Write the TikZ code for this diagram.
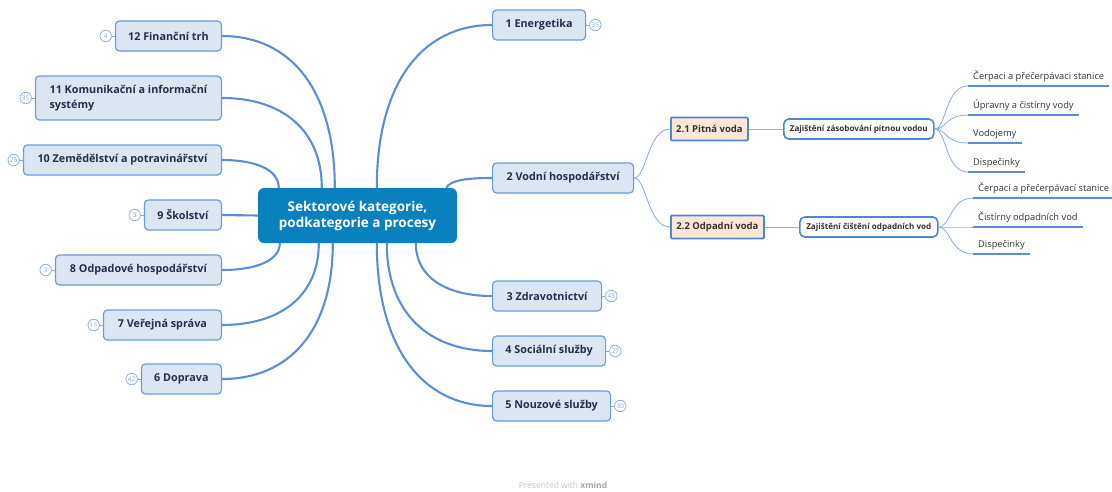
\documentclass[tikz,border=0pt]{standalone}
\usepackage{fontspec}
\setmainfont{Open Sans}
\definecolor{rootfill}{HTML}{0A81BF}
\definecolor{edgeblue}{HTML}{5A8ED8}
\definecolor{thinblue}{HTML}{8DB3E8}
\definecolor{topicfill}{HTML}{DCE6F2}
\definecolor{topicline}{HTML}{6C9BD9}
\definecolor{topictext}{HTML}{22304D}
\definecolor{subfill}{HTML}{FCE6D6}
\definecolor{subline}{HTML}{4C87D5}
\definecolor{darktext}{HTML}{333333}
\definecolor{badgeblue}{HTML}{86ABE0}
\definecolor{footgray}{HTML}{C4C4C4}
\begin{document}
\begin{tikzpicture}[x=1pt,y=-1pt,
  root/.style={fill=rootfill, rounded corners=6pt, text=white, align=center,
    font=\bfseries\fontsize{13.5}{16}\selectfont, minimum width=199pt, minimum height=55pt, inner sep=0pt},
  topic/.style={draw=topicline, fill=topicfill, rounded corners=4pt, line width=1.2pt,
    text=topictext, font=\bfseries\fontsize{10.8}{14}\selectfont, minimum height=30pt, inner sep=0pt},
  subtopic/.style={draw=subline, fill=subfill, line width=1.8pt, rounded corners=1pt,
    text=darktext, font=\bfseries\fontsize{9.5}{11}\selectfont, minimum height=23pt, inner sep=0pt},
  process/.style={draw=subline, fill=white, line width=1.6pt, rounded corners=5pt,
    text=darktext, font=\bfseries\fontsize{8.1}{9}\selectfont, minimum height=20pt, inner sep=0pt},
  leaf/.style={anchor=south west, text=darktext, font=\fontsize{9.3}{11}\selectfont,
    inner xsep=5pt, inner ysep=4pt, text height=7pt, text depth=2pt},
  badge/.style={circle, draw=badgeblue, line width=0.7pt, minimum size=11.5pt, inner sep=0pt,
    text=badgeblue, font=\fontsize{6.5}{7}\selectfont},
  mainedge/.style={draw=edgeblue, line width=2.1pt},
  thinedge/.style={draw=thinblue, line width=0.9pt},
  badgelink/.style={draw=badgeblue, line width=0.7pt},
  leafline/.style={draw=edgeblue, line width=1.6pt}]
\useasboundingbox (0,0) rectangle (1112,491);

% central topic
\node[root] (c) at (357.5,215.5) {Sektorové kategorie,\\podkategorie a procesy};

% left-hand sectors
\node[topic, anchor=east, minimum width=106pt] (n12) at (222,36) {12 Finanční trh};
\node[topic, anchor=east, minimum width=186pt, minimum height=44pt, align=left,
  font=\bfseries\fontsize{10.8}{15}\selectfont] (n11) at (222,98) {11 Komunikační a informační\\systémy};
\node[topic, anchor=east, minimum width=198pt] (n10) at (222,160) {10 Zemědělství a potravinářství};
\node[topic, anchor=east, minimum width=77pt] (n9) at (222,215) {9 Školství};
\node[topic, anchor=east, minimum width=166pt] (n8) at (222,270) {8 Odpadové hospodářství};
\node[topic, anchor=east, minimum width=118pt] (n7) at (222,325) {7 Veřejná správa};
\node[topic, anchor=east, minimum width=80pt] (n6) at (222,379) {6 Doprava};

% right-hand sectors
\node[topic, anchor=west, minimum width=93pt] (n1) at (492,25) {1 Energetika};
\node[topic, anchor=west, minimum width=141pt] (n2) at (492,178) {2 Vodní hospodářství};
\node[topic, anchor=west, minimum width=109pt] (n3) at (492,296) {3 Zdravotnictví};
\node[topic, anchor=west, minimum width=113pt] (n4) at (492,351) {4 Sociální služby};
\node[topic, anchor=west, minimum width=118pt] (n5) at (492,406) {5 Nouzové služby};

% count badges
\node[badge, anchor=east] (b12) at ([xshift=-3pt]n12.west) {4};
\node[badge, anchor=east] (b11) at ([xshift=-3pt]n11.west) {35};
\node[badge, anchor=east] (b10) at ([xshift=-3pt]n10.west) {25};
\node[badge, anchor=east] (b9) at ([xshift=-3pt]n9.west) {3};
\node[badge, anchor=east] (b8) at ([xshift=-3pt]n8.west) {3};
\node[badge, anchor=east] (b7) at ([xshift=-3pt]n7.west) {15};
\node[badge, anchor=east] (b6) at ([xshift=-3pt]n6.west) {42};
\node[badge, anchor=west] (b1) at ([xshift=3pt]n1.east) {35};
\node[badge, anchor=west] (b3) at ([xshift=3pt]n3.east) {48};
\node[badge, anchor=west] (b4) at ([xshift=3pt]n4.east) {27};
\node[badge, anchor=west] (b5) at ([xshift=3pt]n5.east) {30};
\foreach \b/\n in {b12/n12,b11/n11,b10/n10,b9/n9,b8/n8,b7/n7,b6/n6}
  \draw[badgelink] (\b.east) -- (\n.west);
\foreach \b/\n in {b1/n1,b3/n3,b4/n4,b5/n5}
  \draw[badgelink] (\b.west) -- (\n.east);

% water management subtopics
\node[subtopic, anchor=west, minimum width=77pt] (s1) at (670,129) {2.1 Pitná voda};
\node[subtopic, anchor=west, minimum width=93pt] (s2) at (670,227) {2.2 Odpadní voda};
\node[process, anchor=west, minimum width=150pt] (z1) at (783,129) {Zajištění zásobování pitnou vodou};
\node[process, anchor=west, minimum width=138pt] (z2) at (799,227) {Zajištění čištění odpadních vod};

% processes
\node[leaf] (p1) at (968,86) {Čerpaci a přečerpávaci stanice};
\node[leaf] (p2) at (968,115) {Úpravny a čistírny vody};
\node[leaf] (p3) at (968,143) {Vodojemy};
\node[leaf] (p4) at (968,172) {Dispečinky};
\node[leaf] (q1) at (973,198) {Čerpací a přečerpávací stanice};
\node[leaf] (q2) at (973,227) {Čistírny odpadních vod};
\node[leaf] (q3) at (973,254) {Dispečinky};
\foreach \p in {p1,p2,p3,p4,q1,q2,q3}
  \draw[leafline] (\p.south west) -- (\p.south east);

% main branches
\draw[mainedge] ([xshift=77pt]c.north west) .. controls +(0,-99) and +(68,0) .. (n12.east);
\draw[mainedge] ([xshift=64pt]c.north west) .. controls +(0,-58) and +(60,0) .. (n11.east);
\draw[mainedge] ([xshift=21pt]c.north west) .. controls +(0,-18) and +(34,0) .. (n10.east);
\draw[mainedge] (c.west) -- (n9.east);
\draw[mainedge] ([xshift=22pt]c.south west) .. controls +(0,17) and +(35,0) .. (n8.east);
\draw[mainedge] ([xshift=61pt]c.south west) .. controls +(0,53) and +(58,0) .. (n7.east);
\draw[mainedge] ([xshift=75pt]c.south west) .. controls +(0,88) and +(67,0) .. (n6.east);
\draw[mainedge] ([xshift=119pt]c.north west) .. controls +(0,-106) and +(-69,0) .. (n1.west);
\draw[mainedge] ([xshift=-11pt]c.north east) .. controls +(4,-7) and +(-28,0) .. (n2.west);
\draw[mainedge] ([xshift=158pt]c.south west) .. controls +(0,34) and +(-46,0) .. (n3.west);
\draw[mainedge] ([xshift=129pt]c.south west) .. controls +(0,70) and +(-63,0) .. (n4.west);
\draw[mainedge] ([xshift=119pt]c.south west) .. controls +(0,105) and +(-69,0) .. (n5.west);

% sub-branches
\draw[thinedge] (n2.east) .. controls +(12,0) and +(-22,0) .. (s1.west);
\draw[thinedge] (n2.east) .. controls +(12,0) and +(-22,0) .. (s2.west);
\draw[thinedge] (s1.east) -- (z1.west);
\draw[thinedge] (s2.east) -- (z2.west);
\foreach \p in {p1,p2,p3,p4}
  \draw[thinedge] (z1.east) .. controls +(12,0) and +(-23,0) .. (\p.south west);
\foreach \q in {q1,q2,q3}
  \draw[thinedge] (z2.east) .. controls +(12,0) and +(-23,0) .. (\q.south west);

% footer
\node[text=footgray, font=\fontsize{8.5}{9}\selectfont] (foot) at (563,485)
  {Presented with {\bfseries\color{gray!70}xmind}};
\end{tikzpicture}
\end{document}
